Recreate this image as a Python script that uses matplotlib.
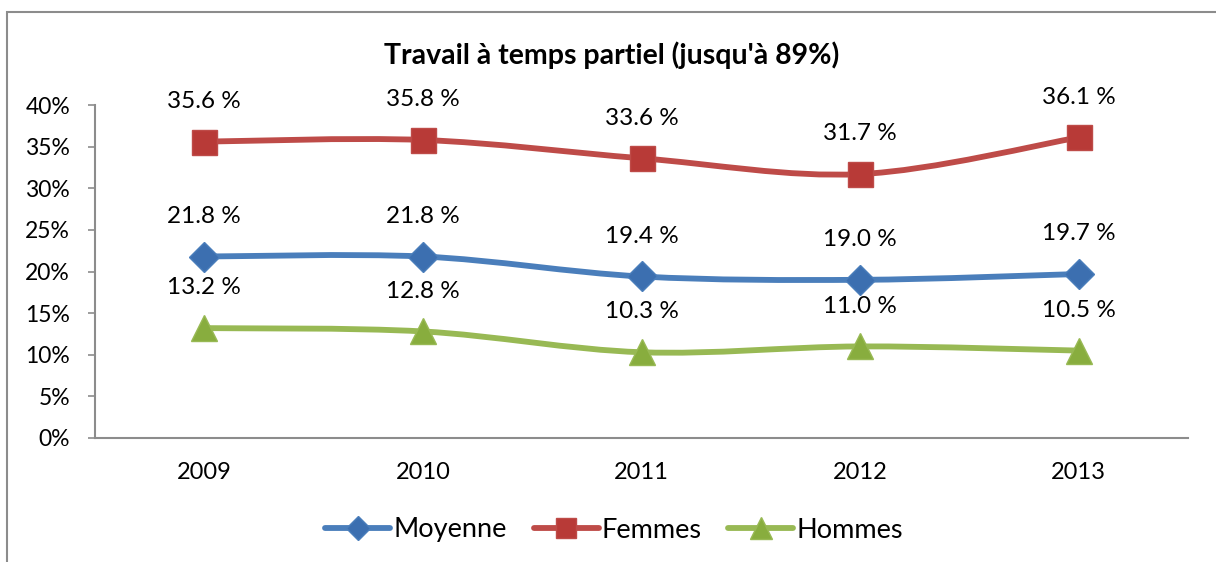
import numpy as np
import matplotlib
matplotlib.use('Agg')
import matplotlib.pyplot as plt
from matplotlib.path import Path
from matplotlib.patches import PathPatch, Rectangle
from matplotlib.lines import Line2D

plt.rcParams['font.family'] = ['Lato', 'DejaVu Sans']

years = ['2009', '2010', '2011', '2012', '2013']
moyenne = [21.8, 21.8, 19.4, 19.0, 19.7]
femmes = [35.6, 35.8, 33.6, 31.7, 36.1]
hommes = [13.2, 12.8, 10.3, 11.0, 10.5]

series = [
    ('Moyenne', moyenne, '#4A7EBB', '#3C6FB0', 'D', 15),
    ('Femmes', femmes, '#BE4B48', '#B83A37', 's', 18),
    ('Hommes', hommes, '#98B954', '#88AD3E', '^', 19),
]


def smooth_path(xs, ys):
    # excel-like smoothed line: catmull-rom segments as cubic beziers
    pts = np.column_stack([xs, ys])
    ext = np.vstack([pts[0], pts, pts[-1]])
    verts = [pts[0]]
    codes = [Path.MOVETO]
    for i in range(1, len(ext) - 2):
        p0, p1, p2, p3 = ext[i - 1], ext[i], ext[i + 1], ext[i + 2]
        c1 = p1 + (p2 - p0) / 6.0
        c2 = p2 - (p3 - p1) / 6.0
        verts += [c1, c2, p2]
        codes += [Path.CURVE4] * 3
    return Path(verts, codes)


fig = plt.figure(figsize=(12.16, 5.62), dpi=100)
fig.patches.append(Rectangle((7 / 1216, -0.1), 1.2, 1 - 12 / 562 + 0.1,
                             transform=fig.transFigure, fill=False,
                             edgecolor='#8c8c8c', linewidth=1.5))

ax = fig.add_axes([95 / 1216, 1 - 438 / 562, (1188 - 95) / 1216, 333 / 562])
x = np.arange(len(years))

for name, vals, col, mcol, mk, ms in series:
    ax.add_patch(PathPatch(smooth_path(x, vals), fill=False, edgecolor=col,
                           linewidth=4.2, capstyle='round', zorder=2))
    ax.plot(x, vals, linestyle='none', marker=mk, markersize=ms,
            markerfacecolor=mcol, markeredgecolor=col, markeredgewidth=1,
            zorder=3)
    for xi, v in zip(x, vals):
        ax.annotate('%.1f %%' % v, (xi, v), xytext=(0, 29),
                    textcoords='offset points', ha='center', va='center',
                    fontsize=17.5, color='black')

ax.set_xlim(-0.5, len(years) - 0.5)
ax.set_ylim(0, 40)
ax.set_yticks(np.arange(0, 41, 5))
ax.set_yticklabels(['%d%%' % t for t in range(0, 41, 5)])
ax.set_xticks(x)
ax.set_xticklabels(years)
ax.tick_params(axis='y', length=5, width=1.2, color='#8c8c8c', labelsize=16.5, pad=13)
ax.tick_params(axis='x', length=0, labelsize=17, pad=17)
for s in ['top', 'right']:
    ax.spines[s].set_visible(False)
for s in ['left', 'bottom']:
    ax.spines[s].set_color('#8c8c8c')
    ax.spines[s].set_linewidth(1.5)

fig.text(612 / 1216, 1 - 55 / 562, "Travail à temps partiel (jusqu'à 89%)",
         ha='center', va='center', fontsize=20.5, fontweight='bold')

handles = [Line2D([], [], color=col, linewidth=4.2, marker=mk, markersize=ms * 0.8,
                  markerfacecolor=mcol, markeredgecolor=col, solid_capstyle='round')
           for name, vals, col, mcol, mk, ms in series]
fig.legend(handles, [s[0] for s in series], loc='center',
           bbox_to_anchor=(614 / 1216, 1 - 530 / 562), ncol=3, frameon=False,
           fontsize=19.5, handlelength=2.4, handletextpad=0.1, columnspacing=1.0)

fig.savefig('out.png', dpi=100)
